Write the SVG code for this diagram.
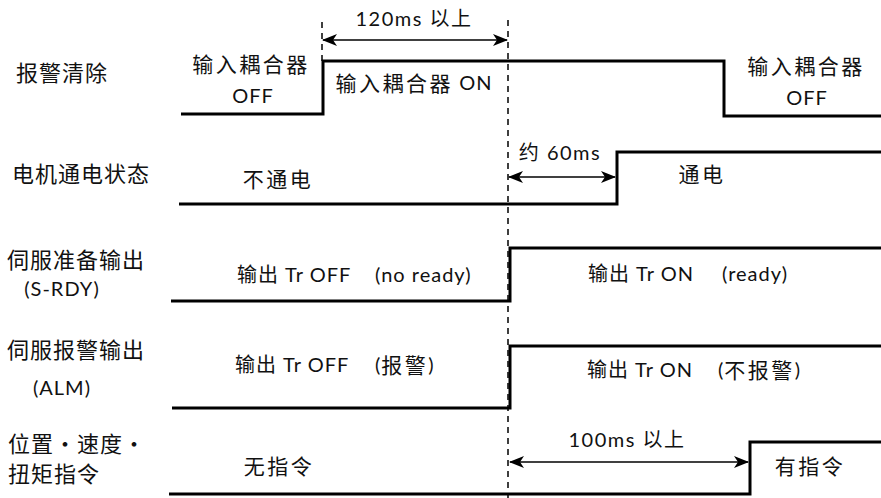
<svg xmlns="http://www.w3.org/2000/svg" width="881" height="498" viewBox="0 0 881 498">
<style>
text{font-family:"Lato","Noto Sans CJK SC",sans-serif;fill:#111;dominant-baseline:central}
.lbl{font-size:22px;letter-spacing:1px}
.lat{font-size:20px;letter-spacing:1px}
.sig{font-size:20px;letter-spacing:1px}
.cj{font-size:21px;letter-spacing:2.5px}
.ann{font-size:20px;letter-spacing:1.5px;text-anchor:middle}
.mid{text-anchor:middle}
.wave{fill:none;stroke:#000;stroke-width:3;stroke-linejoin:miter}
.dash{fill:none;stroke:#000;stroke-width:1.5;stroke-dasharray:6 5}
.arr{fill:none;stroke:#000;stroke-width:1.6;marker-start:url(#ah);marker-end:url(#ah)}
</style>
<defs>
<marker id="ah" markerUnits="userSpaceOnUse" markerWidth="15" markerHeight="12" viewBox="0 0 15 12" refX="14" refY="6" orient="auto-start-reverse">
<path d="M0,0 L15,6 L0,12 L4,6 Z" fill="#000"/>
</marker>
</defs>
<rect width="881" height="498" fill="#fff"/>

<g id="labels">
<text class="lbl" x="16" y="72">报警清除</text>
<text class="lbl" x="12" y="173">电机通电状态</text>
<text class="lbl" x="7" y="259">伺服准备输出</text>
<text class="lat mid" x="62" y="288">(S-RDY)</text>
<text class="lbl" x="7" y="349">伺服报警输出</text>
<text class="lat mid" x="62" y="387">(ALM)</text>
<text class="lbl" x="8" y="443">位置・速度・</text>
<text class="lbl" x="8" y="473">扭矩指令</text>
</g>

<g id="signal-alarm-clear">
<path class="wave" d="M181,114 H323 V61 H724 V116 H881"/>
<text class="sig cj mid" x="251" y="63">输入耦合器</text>
<text class="sig mid" x="253" y="95">OFF</text>
<text class="sig mid" x="414" y="82"><tspan class="cj">输入耦合器</tspan> ON</text>
<text class="sig cj mid" x="806" y="65">输入耦合器</text>
<text class="sig mid" x="807" y="97">OFF</text>
</g>

<g id="signal-motor">
<path class="wave" d="M179,204 H617 V152 H881"/>
<text class="sig cj mid" x="278" y="178">不通电</text>
<text class="sig cj mid" x="702" y="173">通电</text>
</g>

<g id="signal-srdy">
<path class="wave" d="M171,301 H510 V248 H881"/>
<text class="sig" x="237" y="274">输出 Tr OFF</text>
<text class="sig" x="375" y="274">(no ready)</text>
<text class="sig" x="588" y="273">输出 Tr ON</text>
<text class="sig" x="722" y="273">(ready)</text>
</g>

<g id="signal-alm">
<path class="wave" d="M172,408 H510 V346 H881"/>
<text class="sig" x="235" y="364">输出 Tr OFF</text>
<text class="sig" x="375" y="364">(<tspan class="cj">报警</tspan>)</text>
<text class="sig" x="587" y="369">输出 Tr ON</text>
<text class="sig" x="718" y="369">(<tspan class="cj">不报警</tspan>)</text>
</g>

<g id="signal-command">
<path class="wave" d="M169,494 H750 V442 H881"/>
<text class="sig cj mid" x="279" y="465">无指令</text>
<text class="sig cj mid" x="810" y="465">有指令</text>
</g>

<g id="connectors">
<path class="dash" d="M322,22 V61"/>
<path class="dash" d="M508,20 V498"/>
<path class="arr" d="M323,40 H507"/>
<text class="ann" x="414" y="18">120ms 以上</text>
<path class="arr" d="M509,177 H615"/>
<text class="ann" x="560" y="152">约 60ms</text>
<path class="arr" d="M510,462 H748"/>
<text class="ann" x="627" y="439">100ms 以上</text>
</g>
</svg>
